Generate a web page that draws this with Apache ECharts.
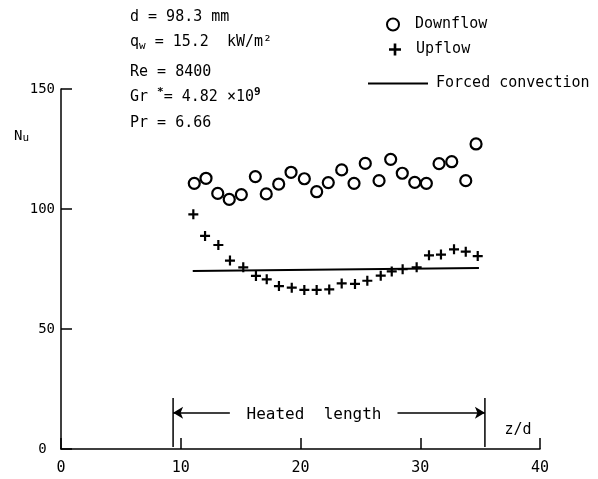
<!DOCTYPE html>
<html>
<head>
<meta charset="utf-8">
<script src="https://cdn.jsdelivr.net/npm/echarts@6/dist/echarts.min.js"></script>
<style>html,body{margin:0;padding:0;background:#fff}#c{width:598px;height:479px}</style>
</head>
<body>
<div id="c"></div>
<script>
// Downflow (circles)
var downX = [11.13,12.11,13.09,14.05,15.06,16.23,17.14,18.18,19.21,20.32,21.35,22.32,23.44,24.47,25.41,26.56,27.53,28.50,29.54,30.51,31.57,32.63,33.80,34.66];
var downY = [110.7,112.8,106.5,104.0,106.0,113.5,106.3,110.4,115.3,112.6,107.2,111.0,116.3,110.7,119.0,111.8,120.7,114.9,111.1,110.7,118.9,119.7,111.8,127.1];
// Upflow (pluses)
var upX = [11.05,12.03,13.14,14.11,15.22,16.28,17.18,18.20,19.27,20.32,21.35,22.40,23.44,24.55,25.58,26.70,27.62,28.53,29.70,30.73,31.73,32.82,33.80,34.80];
var upY = [97.8,88.8,85.0,78.5,75.7,72.1,70.7,67.9,67.2,66.3,66.3,66.5,69.0,68.8,70.1,72.2,74.0,74.9,75.7,80.7,81.0,83.2,82.2,80.4];
// Forced convection line
var fcX = [11.0, 34.9];
var fcY = [74.2, 75.4];
// Heated length markers
var heatStart = 9.36, heatEnd = 35.4;
var heatBarY = [0.8, 21.2];
var heatArrowY = 15.1;
var heatArrowInner = [14.1, 28.1];
// Axis ticks
var xTicks = [0, 10, 20, 30, 40];
var yTicks = [0, 50, 100, 150];

var FONT = '"DejaVu Sans Mono", monospace';
function zip(a, b) { return a.map(function (v, i) { return [v, b[i]]; }); }

var chart = echarts.init(document.getElementById('c'), null, {renderer: 'canvas'});
var plus = 'path://M3.9,0H6.1V3.9H10V6.1H6.1V10H3.9V6.1H0V3.9H3.9Z';

chart.setOption({
  animation: false,
  backgroundColor: '#fff',
  grid: {left: 61, right: 58, top: 89, bottom: 30},
  xAxis: {
    type: 'value', min: xTicks[0], max: xTicks[xTicks.length - 1], interval: 10,
    axisLine: {lineStyle: {color: '#000', width: 1.5}},
    axisTick: {inside: true, length: 11, lineStyle: {color: '#000', width: 1.5}},
    axisLabel: {color: '#000', fontFamily: FONT, fontSize: 15, margin: 12},
    splitLine: {show: false}
  },
  yAxis: {
    type: 'value', min: yTicks[0], max: yTicks[yTicks.length - 1], interval: 50,
    axisLine: {show: true, lineStyle: {color: '#000', width: 1.5}},
    axisTick: {show: true, inside: true, length: 11, lineStyle: {color: '#000', width: 1.5}},
    axisLabel: {color: '#000', fontFamily: FONT, fontSize: 14, margin: 6,
      formatter: function (v) { return v === 0 ? '0 ' : String(v); }},
    splitLine: {show: false}
  },
  legend: [
    {data: ['Downflow'], left: 381, top: 12, itemWidth: 12, itemHeight: 12,
     textStyle: {color: '#000', fontFamily: FONT, fontSize: 15, padding: [0, 0, 0, 11]}},
    {data: ['Upflow'], left: 384, top: 37, itemWidth: 12, itemHeight: 12,
     textStyle: {color: '#000', fontFamily: FONT, fontSize: 15, padding: [0, 0, 0, 10]}},
    {data: [{name: 'Forced convection', icon: 'rect'}], left: 363, top: 71, itemWidth: 60, itemHeight: 2,
     textStyle: {color: '#000', fontFamily: FONT, fontSize: 15, padding: [0, 0, 0, 3]}}
  ],
  series: [
    {name: 'Downflow', type: 'scatter', data: zip(downX, downY), symbol: 'circle', symbolSize: 11,
     itemStyle: {color: '#fff', borderColor: '#000', borderWidth: 2.2, opacity: 1}, z: 3},
    {name: 'Upflow', type: 'scatter', data: zip(upX, upY), symbol: plus, symbolSize: 10,
     itemStyle: {color: '#000', opacity: 1}, z: 4},
    {name: 'Forced convection', type: 'line', data: zip(fcX, fcY), symbol: 'none',
     lineStyle: {color: '#000', width: 2}, itemStyle: {color: '#000'}, z: 2},
    {name: 'heat-left', type: 'line', data: [[heatStart, heatBarY[0]], [heatStart, heatBarY[1]]],
     symbol: 'none', lineStyle: {color: '#000', width: 1.5}, silent: true, z: 2},
    {name: 'heat-right', type: 'line', data: [[heatEnd, heatBarY[0]], [heatEnd, heatBarY[1]]],
     symbol: 'none', lineStyle: {color: '#000', width: 1.5}, silent: true, z: 2,
     markLine: {
       silent: true, label: {show: false}, lineStyle: {color: '#000', width: 1.5, type: 'solid'},
       symbolSize: [9, 10],
       data: [
         [{coord: [heatStart, heatArrowY], symbol: 'arrow'}, {coord: [heatArrowInner[0], heatArrowY], symbol: 'none'}],
         [{coord: [heatArrowInner[1], heatArrowY], symbol: 'none'}, {coord: [heatEnd, heatArrowY], symbol: 'arrow'}]
       ]
     }}
  ],
  graphic: [
    {type: 'text', x: 130, y: 17, style: {text: 'd = 98.3 mm', font: '15px ' + FONT, fill: '#000', verticalAlign: 'middle'}},
    {type: 'text', x: 130, y: 42, style: {
      text: '{a|q}{s|w}{a| = 15.2  kW/m²}', verticalAlign: 'middle',
      rich: {a: {font: '15px ' + FONT, fill: '#000', lineHeight: 20, verticalAlign: 'middle'},
             s: {font: '11px ' + FONT, fill: '#000', lineHeight: 11, verticalAlign: 'bottom'}}}},
    {type: 'text', x: 130, y: 72, style: {text: 'Re = 8400', font: '15px ' + FONT, fill: '#000', verticalAlign: 'middle'}},
    {type: 'text', x: 130, y: 97, style: {
      text: '{a|Gr }{p|*}{a|= 4.82 ×10}{p|9}', verticalAlign: 'middle',
      rich: {a: {font: '15px ' + FONT, fill: '#000', lineHeight: 20, verticalAlign: 'middle'},
             p: {font: 'bold 11px ' + FONT, fill: '#000', lineHeight: 11, verticalAlign: 'top'}}}},
    {type: 'text', x: 130, y: 123, style: {text: 'Pr = 6.66', font: '15px ' + FONT, fill: '#000', verticalAlign: 'middle'}},
    {type: 'text', x: 14, y: 136, style: {
      text: '{n|N}{u|u}', verticalAlign: 'middle',
      rich: {n: {font: '14px ' + FONT, fill: '#000', lineHeight: 16, verticalAlign: 'middle'},
             u: {font: '11px ' + FONT, fill: '#000', lineHeight: 11, verticalAlign: 'bottom'}}}},
    {type: 'text', x: 314, y: 415, style: {text: 'Heated  length', font: '16px ' + FONT, fill: '#000', align: 'center', verticalAlign: 'middle'}},
    {type: 'text', x: 518, y: 430, style: {text: 'z/d', font: '15px ' + FONT, fill: '#000', align: 'center', verticalAlign: 'middle'}}
  ]
});
</script>
</body>
</html>
